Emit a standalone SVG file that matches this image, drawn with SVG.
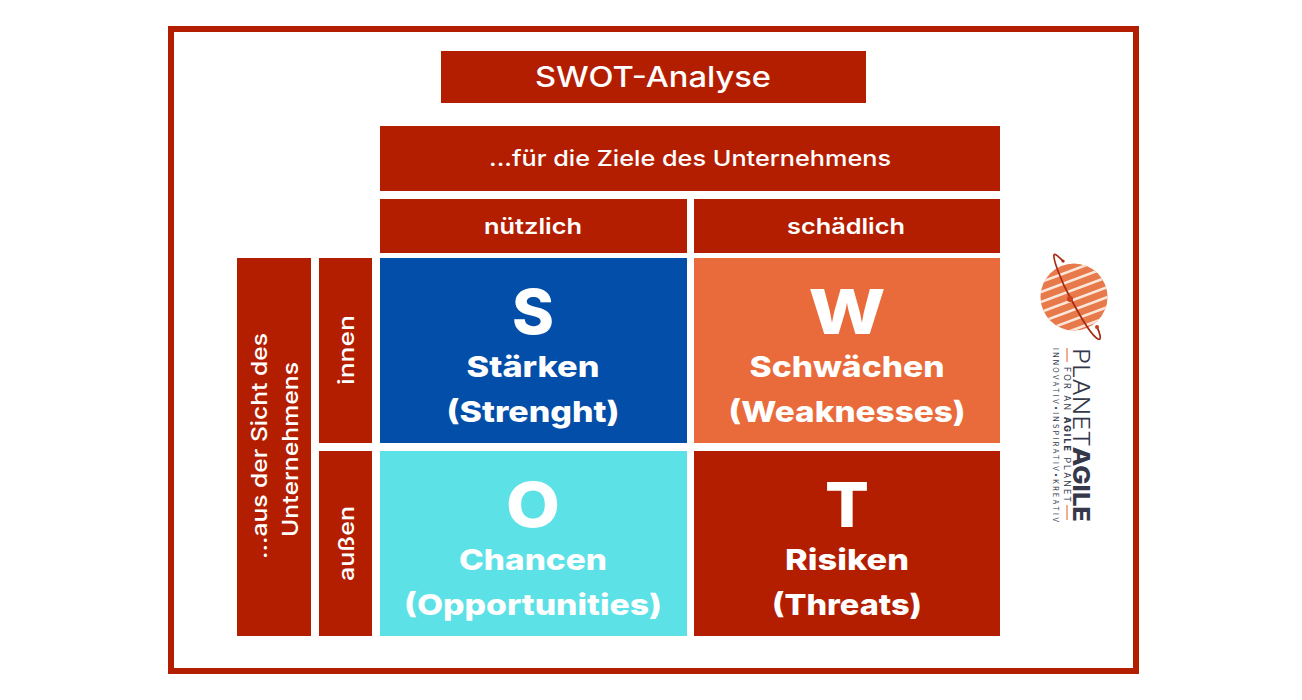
<svg xmlns="http://www.w3.org/2000/svg" width="1302" height="700" viewBox="0 0 1302 700">
<style>
text{font-family:"Inter","Liberation Sans",sans-serif;fill:#fff;text-anchor:middle}
.r{fill:#b41e00}
.h{font-size:22px;font-weight:600}
.l{font-size:29px;font-weight:800}
.b{font-size:62px;font-weight:800}
.lg{fill:#34384a;text-anchor:start}
</style>
<defs><clipPath id="pc"><circle cx="1074" cy="297" r="33.5"/></clipPath></defs>
<rect width="1302" height="700" fill="#fff"/>
<rect x="171" y="29" width="965" height="642" fill="none" stroke="#b41e00" stroke-width="6"/>
<g id="title"><rect class="r" x="441" y="51" width="425" height="52"/><text x="653" y="87" style="font-size:28px;font-weight:500" textLength="236" lengthAdjust="spacingAndGlyphs">SWOT-Analyse</text></g>
<g id="ziele"><rect class="r" x="380" y="126" width="620" height="65"/><text x="690" y="166" class="h" style="font-weight:500" textLength="402" lengthAdjust="spacingAndGlyphs">...für die Ziele des Unternehmens</text></g>
<g id="nuetzlich"><rect class="r" x="380" y="199" width="307" height="54"/><text x="533" y="234" class="h" textLength="98" lengthAdjust="spacingAndGlyphs">nützlich</text></g>
<g id="schaedlich"><rect class="r" x="694" y="199" width="306" height="54"/><text x="846" y="234" class="h" textLength="118" lengthAdjust="spacingAndGlyphs">schädlich</text></g>
<g id="sicht"><rect class="r" x="237" y="258" width="74" height="378"/><text transform="translate(267 446) rotate(-90)" class="h" style="font-weight:500" textLength="226" lengthAdjust="spacingAndGlyphs">...aus der Sicht des</text><text transform="translate(298 449.500) rotate(-90)" class="h" style="font-weight:500" textLength="175" lengthAdjust="spacingAndGlyphs">Unternehmens</text></g>
<g id="innen"><rect class="r" x="319" y="258" width="53" height="185"/><text transform="translate(354 350) rotate(-90)" class="h" style="font-weight:500" textLength="70" lengthAdjust="spacingAndGlyphs">innen</text></g>
<g id="aussen"><rect class="r" x="319" y="451" width="53" height="185"/><text transform="translate(354 543.500) rotate(-90)" class="h" style="font-weight:500" textLength="75" lengthAdjust="spacingAndGlyphs">außen</text></g>
<g id="s"><rect x="380" y="258" width="307" height="185" fill="#034ea8"/><text x="533" y="334" class="b" textLength="42" lengthAdjust="spacingAndGlyphs">S</text><text x="533" y="377" class="l" textLength="133" lengthAdjust="spacingAndGlyphs">Stärken</text><text x="533" y="422" class="l" textLength="173" lengthAdjust="spacingAndGlyphs">(Strenght)</text></g>
<g id="w"><rect x="694" y="258" width="306" height="185" fill="#e96a3a"/><text x="847" y="334" class="b" textLength="77" lengthAdjust="spacingAndGlyphs">W</text><text x="847" y="377" class="l" textLength="195" lengthAdjust="spacingAndGlyphs">Schwächen</text><text x="847" y="422" class="l" textLength="237" lengthAdjust="spacingAndGlyphs">(Weaknesses)</text></g>
<g id="o"><rect x="380" y="451" width="307" height="185" fill="#5ce1e6"/><text x="533" y="527" class="b" textLength="54" lengthAdjust="spacingAndGlyphs">O</text><text x="533" y="570" class="l" textLength="148" lengthAdjust="spacingAndGlyphs">Chancen</text><text x="533" y="615" class="l" textLength="258" lengthAdjust="spacingAndGlyphs">(Opportunities)</text></g>
<g id="t"><rect class="r" x="694" y="451" width="306" height="185"/><text x="847" y="527" class="b" textLength="44" lengthAdjust="spacingAndGlyphs">T</text><text x="847" y="570" class="l" textLength="124" lengthAdjust="spacingAndGlyphs">Risiken</text><text x="847" y="615" class="l" textLength="150" lengthAdjust="spacingAndGlyphs">(Threats)</text></g>
<g id="logo">
<circle cx="1074" cy="297" r="33.500" fill="#e8794b"/>
<g clip-path="url(#pc)" stroke="#fbe6da" stroke-width="2.600">
<path d="M1030 286L1116 254M1030 296L1116 264M1030 306L1116 274M1030 316L1116 284M1030 326L1116 294M1030 336L1116 304M1030 346L1116 314M1030 356L1116 324"/>
</g>
<path d="M1064 262C1059 257 1055 253 1054 255C1053 258 1060 280 1071 299C1080 316 1092 336 1098 339C1102 341 1100 333 1097 327" fill="none" stroke="#a82a12" stroke-width="1.700"/>
<circle cx="1070" cy="299" r="3" fill="#c8401c"/>
<circle cx="1063" cy="261" r="1.600" fill="#a82a12"/><circle cx="1097" cy="327" r="2" fill="#c8401c"/>
<text class="lg" transform="translate(1073 348) rotate(90)" style="font-size:23px;font-weight:300" textLength="174" lengthAdjust="spacingAndGlyphs">PLANET<tspan font-weight="800">AGILE</tspan></text>
<path d="M1067 348V362M1067 505V520" stroke="#e8794b" stroke-width="1.200"/>
<text class="lg" transform="translate(1064 367) rotate(90)" style="font-size:8.800px;font-weight:400" textLength="135" lengthAdjust="spacing">FOR AN <tspan font-weight="800">AGILE</tspan> PLANET</text>
<text class="lg" transform="translate(1053 348) rotate(90)" style="font-size:7px;font-weight:400" textLength="174" lengthAdjust="spacing">INNOVATIV•INSPIRATIV•KREATIV</text>
</g>
</svg>
